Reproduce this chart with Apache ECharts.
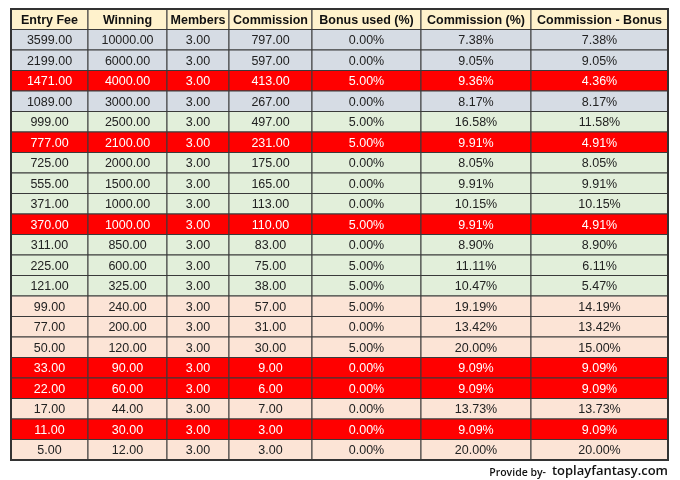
<!DOCTYPE html>
<html><head><meta charset="utf-8">
<script src="https://cdn.jsdelivr.net/npm/echarts@6/dist/echarts.min.js"></script>
<style>html,body{margin:0;padding:0;background:#fff}#c{width:680px;height:480px}</style>
</head><body><div id="c"></div>
<script>
var headers = ['Entry Fee','Winning','Members','Commission','Bonus used (%)','Commission (%)','Commission - Bonus'];
var entryFee = [3599,2199,1471,1089,999,777,725,555,371,370,311,225,121,99,77,50,33,22,17,11,5];
var winning = [10000,6000,4000,3000,2500,2100,2000,1500,1000,1000,850,600,325,240,200,120,90,60,44,30,12];
var members = [3,3,3,3,3,3,3,3,3,3,3,3,3,3,3,3,3,3,3,3,3];
var commission = [797,597,413,267,497,231,175,165,113,110,83,75,38,57,31,30,9,6,7,3,3];
var bonusUsed = [0,0,5,0,5,5,0,0,0,5,0,5,5,5,0,5,0,0,0,0,0];
var commissionPct = [7.38,9.05,9.36,8.17,16.58,9.91,8.05,9.91,10.15,9.91,8.90,11.11,10.47,19.19,13.42,20.00,9.09,9.09,13.73,9.09,20.00];
var commMinusBonus = [7.38,9.05,4.36,8.17,11.58,4.91,8.05,9.91,10.15,4.91,8.90,6.11,5.47,14.19,13.42,15.00,9.09,9.09,13.73,9.09,20.00];
var highlightRows = [2,5,9,16,17,19];
var rowGroup = [0,0,0,0,1,1,1,1,1,1,1,1,1,2,2,2,2,2,2,2,2];

// layout (style) values
var colWidths = [77,79,62,83,109,110,137];
var groupColors = ['#D6DCE4','#E2EFDA','#FCE4D6'];
var headerColor = '#FFF2CC';
var redColor = '#FF0000';

var colEdges = [0];
colWidths.forEach(function(w,i){ colEdges.push(colEdges[i]+w); });
var totalW = colEdges[colEdges.length-1];

var nRows = entryFee.length + 1;
var rowCats = [];
for (var r=0;r<nRows;r++) rowCats.push('r'+r);

var cells = [];
headers.forEach(function(h,c){ cells.push([c, 0, h, headerColor, '#111', 1]); });
entryFee.forEach(function(_,i){
  var red = highlightRows.indexOf(i) >= 0;
  var fill = red ? redColor : groupColors[rowGroup[i]];
  var tc = red ? '#fff' : '#222';
  var vals = [entryFee[i].toFixed(2), winning[i].toFixed(2), members[i].toFixed(2), commission[i].toFixed(2),
              bonusUsed[i].toFixed(2)+'%', commissionPct[i].toFixed(2)+'%', commMinusBonus[i].toFixed(2)+'%'];
  vals.forEach(function(v,c){ cells.push([c, i+1, v, fill, tc, 0]); });
});

var chart = echarts.init(document.getElementById('c'));
chart.setOption({
  animation:false,
  grid:{left:11, top:9, width:657, height:451},
  xAxis:{type:'value', min:0, max:totalW, show:false},
  yAxis:{type:'category', data:rowCats, inverse:true, show:false},
  series:[{
    type:'custom',
    data:cells,
    renderItem:function(params, api){
      var c = api.value(0), r = api.value(1);
      var p0 = api.coord([colEdges[c], r]);
      var p1 = api.coord([colEdges[c+1], r]);
      var h = api.size([0,1])[1];
      var x = p0[0], y = p0[1]-h/2, w = p1[0]-p0[0];
      var d = cells[params.dataIndex];
      var isHead = d[5] === 1;
      return {type:'group', children:[
        {type:'rect', shape:{x:x, y:y, width:w, height:h}, style:{fill:d[3], stroke:'#3a3a3a', lineWidth:1}},
        {type:'text', x:x+w/2, y:y+h/2+1, style:{text:d[2], fill:d[4], align:'center', verticalAlign:'middle',
          font:(isHead?'bold 12.5px':'12.5px')+' "Liberation Sans", Arial, sans-serif'}}
      ]};
    }
  }],
  graphic:[
    {type:'rect', shape:{x:11, y:9, width:657, height:451}, style:{fill:'none', stroke:'#333', lineWidth:2}, z:100},
    {type:'text', x:546, y:473, style:{text:'Provide by-', font:'600 10.5px "Open Sans", sans-serif', fill:'#111', align:'right', verticalAlign:'middle'}},
    {type:'text', x:668, y:471, style:{text:'toplayfantasy.com', font:'600 13px "Open Sans", sans-serif', fill:'#111', align:'right', verticalAlign:'middle'}}
  ]
});
</script></body></html>
